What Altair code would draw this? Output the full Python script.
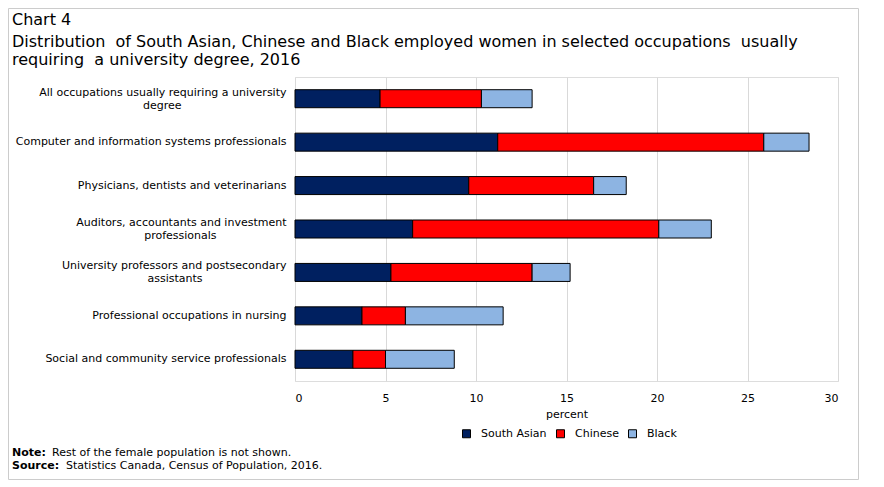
import altair as alt
import pandas as pd

occupations = [
    "All occupations usually requiring a university|degree",
    "Computer and information systems professionals",
    "Physicians, dentists and veterinarians",
    "Auditors, accountants and investment|professionals",
    "University professors and postsecondary|assistants",
    "Professional occupations in nursing",
    "Social and community service professionals",
]
groups = ["South Asian", "Chinese", "Black"]
south_asian = [4.7, 11.2, 9.6, 6.5, 5.3, 3.7, 3.2]
chinese = [5.6, 14.7, 6.9, 13.6, 7.8, 2.4, 1.8]
black = [2.8, 2.5, 1.8, 2.9, 2.1, 5.4, 3.8]
colors = ["#002060", "#FF0000", "#8DB4E2"]

title_lines = [
    "Chart 4",
    "Distribution \u00a0of South Asian, Chinese and Black employed women in selected occupations \u00a0usually",
    "requiring \u00a0a university degree, 2016",
]

FONT = "DejaVu Sans"

# approximate DejaVu Sans advance widths (units per 2048 em) to centre 2nd label lines
_w = {
    "a": 1255, "b": 1300, "c": 1126, "d": 1300, "e": 1260, "f": 721, "g": 1300, "h": 1298,
    "i": 569, "j": 569, "k": 1186, "l": 569, "m": 1995, "n": 1298, "o": 1253, "p": 1300,
    "q": 1300, "r": 842, "s": 1067, "t": 803, "u": 1298, "v": 1212, "w": 1675, "x": 1212,
    "y": 1212, "z": 1075, " ": 651, ",": 651, "A": 1401, "U": 1499, "C": 1430, "P": 1235,
}


def tw(s):
    return sum(_w.get(ch, 1250) for ch in s)


def make_label(lbl):
    parts = lbl.split("|")
    if len(parts) == 1:
        return lbl
    pad = round((tw(parts[0]) - tw(parts[1])) / 2 / 651)
    # non-breaking spaces closed by a zero-width space so they survive trimming
    return parts[0] + "|" + parts[1] + "\u00a0" * pad + "\u200b"


labels = [make_label(o) for o in occupations]

rows = []
for i, lab in enumerate(labels):
    for g, vals, k in zip(groups, [south_asian, chinese, black], range(3)):
        rows.append({"occupation": lab, "group": g, "value": vals[i], "order": k})
df = pd.DataFrame(rows)

bars = alt.Chart(df).mark_bar(size=18, stroke="black", strokeWidth=1).encode(
    y=alt.Y(
        "occupation:N",
        sort=labels,
        title=None,
        scale=alt.Scale(paddingInner=0, paddingOuter=0),
        axis=alt.Axis(
            labelExpr="split(datum.label, '|')",
            labelFont=FONT,
            labelFontSize=11,
            labelColor="black",
            labelPadding=9,
            labelLimit=400,
            labelLineHeight=13,
            labelOffset={
                "condition": {"test": "indexof(datum.label, '|') >= 0", "value": -6},
                "value": 0,
            },
            ticks=False,
            domain=False,
        ),
    ),
    x=alt.X(
        "value:Q",
        stack="zero",
        title="percent",
        scale=alt.Scale(domain=[0, 30], nice=False),
        axis=alt.Axis(
            values=[0, 5, 10, 15, 20, 25, 30],
            grid=True,
            gridColor="#d9d9d9",
            ticks=False,
            domain=False,
            labelFont=FONT,
            labelFontSize=11,
            labelColor="black",
            labelPadding=11,
            titleFont=FONT,
            titleFontSize=11,
            titleFontWeight="normal",
            titleColor="black",
            titlePadding=5,
        ),
    ),
    color=alt.Color(
        "group:N",
        scale=alt.Scale(domain=groups, range=colors),
        title=None,
        legend=alt.Legend(
            orient="none",
            direction="horizontal",
            legendX=166,
            legendY=351,
            symbolType="square",
            symbolSize=64,
            symbolStrokeColor="black",
            symbolStrokeWidth=1,
            labelFont=FONT,
            labelFontSize=11,
            labelColor="black",
            labelOffset=9,
            columnPadding=7,
        ),
    ),
    order=alt.Order("order:Q"),
)

frame = alt.Chart(pd.DataFrame({"a": [0]})).mark_rect(
    fill=None, stroke="#cccccc", strokeWidth=1
).encode(
    x=alt.value(-286.5), x2=alt.value(563.5), y=alt.value(-68.5), y2=alt.value(402.5)
)


def text_layer(txt, x, y, size=11, weight="normal"):
    return alt.Chart(pd.DataFrame({"t": [txt]})).mark_text(
        align="left", baseline="middle", font=FONT, fontSize=size,
        fontWeight=weight, color="black"
    ).encode(text="t:N", x=alt.value(x), y=alt.value(y))


title_layers = [
    text_layer(title_lines[0], -283, -57, size=16),
    text_layer(title_lines[1], -283, -35, size=16),
    text_layer(title_lines[2], -283, -17.5, size=16),
]

notes = [
    text_layer("Note:", -283, 376, weight="bold"),
    text_layer("Rest of the female population is not shown.", -243, 376),
    text_layer("Source:", -283, 389, weight="bold"),
    text_layer("Statistics Canada, Census of Population, 2016.", -229, 389),
]

chart = alt.layer(frame, bars, *title_layers, *notes).properties(
    width=543,
    height=304,
    padding={"left": 287, "top": 69, "right": 22, "bottom": 101},
    autosize=alt.AutoSizeParams(type="none"),
).configure_view(stroke="black", strokeWidth=1).configure(background="white")

chart.save("out.html", embed_options={"renderer": "svg", "actions": False})
